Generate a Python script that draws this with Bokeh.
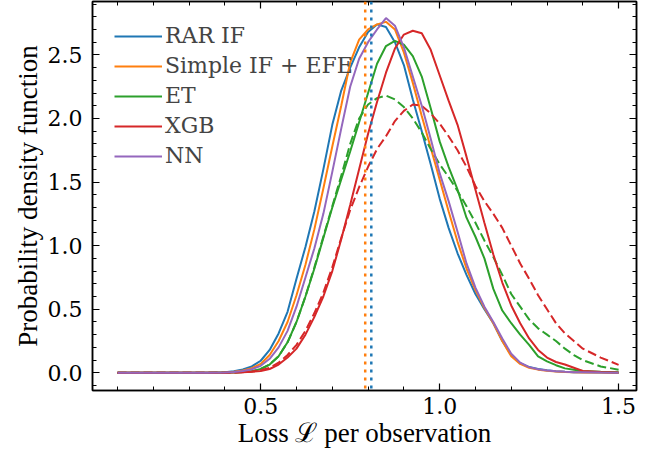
from bokeh.plotting import figure
from bokeh.models import LinearAxis, FixedTicker, Span, Legend, LegendItem, Range1d
from bokeh.embed import file_html
from bokeh.resources import INLINE

# ---- data ----
x = [0.10, 0.20, 0.30, 0.35, 0.40, 0.425, 0.45, 0.475, 0.50, 0.525, 0.55, 0.575,
     0.60, 0.625, 0.65, 0.675, 0.70, 0.725, 0.75, 0.775, 0.80, 0.825, 0.85, 0.875,
     0.90, 0.925, 0.95, 0.975, 1.00, 1.025, 1.05, 1.075, 1.10, 1.125, 1.15, 1.175,
     1.20, 1.225, 1.25, 1.275, 1.30, 1.325, 1.35, 1.375, 1.40, 1.45, 1.50]

rar_if = [0.0, 0.0, 0.0, 0.001, 0.004, 0.012, 0.027, 0.05, 0.095, 0.18, 0.31, 0.48,
          0.74, 0.99, 1.27, 1.60, 1.95, 2.22, 2.40, 2.56, 2.68, 2.74, 2.72, 2.60,
          2.42, 2.15, 1.90, 1.64, 1.37, 1.14, 0.94, 0.77, 0.62, 0.50, 0.39, 0.25,
          0.14, 0.075, 0.045, 0.03, 0.02, 0.013, 0.008, 0.005, 0.004, 0.002, 0.001]

simple_if_efe = [0.0, 0.0, 0.0, 0.001, 0.003, 0.008, 0.018, 0.036, 0.07, 0.14, 0.25, 0.40,
                 0.61, 0.85, 1.13, 1.45, 1.78, 2.10, 2.44, 2.62, 2.70, 2.74, 2.76, 2.70,
                 2.52, 2.28, 2.02, 1.77, 1.52, 1.27, 1.03, 0.82, 0.65, 0.51, 0.39, 0.25,
                 0.13, 0.07, 0.04, 0.025, 0.016, 0.011, 0.007, 0.005, 0.003, 0.002, 0.001]

et = [0.0, 0.0, 0.0, 0.0, 0.001, 0.003, 0.006, 0.012, 0.03, 0.065, 0.13, 0.24,
      0.40, 0.60, 0.82, 1.06, 1.30, 1.52, 1.74, 1.97, 2.20, 2.43, 2.57, 2.61,
      2.58, 2.49, 2.33, 2.08, 1.82, 1.62, 1.44, 1.22, 1.07, 0.90, 0.66, 0.49,
      0.39, 0.30, 0.22, 0.13, 0.09, 0.06, 0.035, 0.025, 0.015, 0.008, 0.004]

et_dashed = [0.0, 0.0, 0.0, 0.0, 0.001, 0.003, 0.006, 0.012, 0.03, 0.065, 0.13, 0.24,
             0.40, 0.60, 0.83, 1.07, 1.31, 1.55, 1.80, 2.00, 2.11, 2.16, 2.18, 2.15,
             2.09, 2.00, 1.89, 1.76, 1.64, 1.54, 1.43, 1.31, 1.18, 1.04, 0.91, 0.77,
             0.62, 0.52, 0.42, 0.35, 0.30, 0.25, 0.19, 0.14, 0.10, 0.05, 0.025]

xgb = [0.0, 0.0, 0.0, 0.0, 0.001, 0.002, 0.004, 0.008, 0.015, 0.03, 0.065, 0.12,
       0.19, 0.30, 0.44, 0.60, 0.80, 1.05, 1.32, 1.60, 1.88, 2.13, 2.36, 2.55,
       2.66, 2.69, 2.67, 2.54, 2.34, 2.14, 1.95, 1.70, 1.44, 1.18, 0.93, 0.71,
       0.53, 0.39, 0.27, 0.18, 0.12, 0.085, 0.065, 0.04, 0.015, 0.006, 0.003]

xgb_dashed = [0.0, 0.0, 0.0, 0.0, 0.001, 0.003, 0.005, 0.01, 0.02, 0.04, 0.08, 0.14,
              0.22, 0.33, 0.47, 0.63, 0.83, 1.06, 1.28, 1.46, 1.62, 1.76, 1.86, 1.98,
              2.06, 2.11, 2.10, 2.04, 1.96, 1.86, 1.75, 1.62, 1.47, 1.35, 1.25, 1.14,
              1.00, 0.86, 0.74, 0.61, 0.50, 0.39, 0.31, 0.25, 0.19, 0.12, 0.063]

nn = [0.0, 0.0, 0.0, 0.001, 0.002, 0.006, 0.014, 0.028, 0.055, 0.11, 0.20, 0.33,
      0.52, 0.75, 0.98, 1.25, 1.58, 1.92, 2.25, 2.47, 2.60, 2.70, 2.79, 2.73,
      2.56, 2.33, 2.10, 1.84, 1.57, 1.35, 1.11, 0.86, 0.67, 0.52, 0.40, 0.27,
      0.15, 0.08, 0.045, 0.028, 0.018, 0.012, 0.008, 0.005, 0.004, 0.002, 0.001]

mean_rar_if = 0.809
mean_simple_if = 0.792

x_major = [0.5, 1.0, 1.5]
x_minor = [round(0.1 * i, 1) for i in range(0, 17)]
y_major = [0.0, 0.5, 1.0, 1.5, 2.0, 2.5]
y_minor = [round(0.1 * i, 1) for i in range(-1, 30)]

BLUE, ORANGE, GREEN, RED, PURPLE = "#1f77b4", "#ff7f0e", "#2ca02c", "#d62728", "#9467bd"
LABEL_FONT = "Liberation Serif"
TICK_FONT = "DejaVu Serif"
LEGEND_FONT = "DejaVu Serif"

p = figure(width=660, height=450, output_backend="svg", toolbar_location=None,
           x_range=Range1d(0.03, 1.55), y_range=Range1d(-0.139, 2.92),
           min_border_left=92, min_border_right=24, min_border_top=1, min_border_bottom=60,
           x_axis_label="Loss \u2112 per observation",
           y_axis_label="Probability density function")
p.grid.visible = False
p.outline_line_color = "black"
p.outline_line_width = 1.5
p.background_fill_color = "white"
p.border_fill_color = "white"

p.add_layout(LinearAxis(), "above")
p.add_layout(LinearAxis(), "right")

for ax in p.xaxis:
    ax.ticker = FixedTicker(ticks=x_major, minor_ticks=x_minor)
    ax.major_label_overrides = {0.5: "0.5", 1.0: "1.0", 1.5: "1.5"}
for ax in p.yaxis:
    ax.ticker = FixedTicker(ticks=y_major, minor_ticks=y_minor)
    ax.major_label_overrides = {0.0: "0.0", 0.5: "0.5", 1.0: "1.0", 1.5: "1.5", 2.0: "2.0", 2.5: "2.5"}

for ax in p.axis:
    ax.major_tick_in = 7
    ax.major_tick_out = 0
    ax.minor_tick_in = 4
    ax.minor_tick_out = 0
    ax.axis_line_color = "black"
    ax.axis_line_width = 1.5
    ax.major_tick_line_color = "black"
    ax.major_tick_line_width = 1.2
    ax.minor_tick_line_color = "black"
    ax.minor_tick_line_width = 1
    ax.major_label_text_font = TICK_FONT
    ax.major_label_text_font_style = "normal"
    ax.major_label_text_font_size = "22px"
    ax.major_label_text_color = "black"
    ax.axis_label_text_font = LABEL_FONT
    ax.axis_label_text_font_size = "27px"
    ax.axis_label_text_font_style = "normal"
    ax.axis_label_text_color = "black"

# top and right axes: ticks only
p.above[0].major_label_overrides = {v: "" for v in x_major}
p.right[0].major_label_overrides = {v: "" for v in y_major}
for ax in (p.above[0], p.right[0]):
    ax.major_label_text_font_size = "1px"
    ax.major_label_standoff = 0
    ax.axis_label = None

p.below[0].major_label_standoff = 7
p.below[0].axis_label_standoff = 1
p.left[0].major_label_standoff = 10
p.left[0].axis_label_standoff = 2

lw = 2
r_blue = p.line(x, rar_if, line_color=BLUE, line_width=lw)
r_orange = p.line(x, simple_if_efe, line_color=ORANGE, line_width=lw)
r_green = p.line(x, et, line_color=GREEN, line_width=lw)
p.line(x, et_dashed, line_color=GREEN, line_width=lw, line_dash="9 4")
r_red = p.line(x, xgb, line_color=RED, line_width=lw)
p.line(x, xgb_dashed, line_color=RED, line_width=lw, line_dash="9 4")
r_purple = p.line(x, nn, line_color=PURPLE, line_width=lw)

p.add_layout(Span(location=mean_simple_if, dimension="height", line_color=ORANGE,
                  line_width=2.5, line_dash="3 5"))
p.add_layout(Span(location=mean_rar_if, dimension="height", line_color=BLUE,
                  line_width=2.5, line_dash="3 5"))

legend = Legend(items=[
    LegendItem(label="RAR IF", renderers=[r_blue]),
    LegendItem(label="Simple IF + EFE", renderers=[r_orange]),
    LegendItem(label="ET", renderers=[r_green]),
    LegendItem(label="XGB", renderers=[r_red]),
    LegendItem(label="NN", renderers=[r_purple]),
], location="top_left")
legend.border_line_color = None
legend.background_fill_alpha = 0
legend.label_text_font = LEGEND_FONT
legend.label_text_font_style = "normal"
legend.label_text_font_size = "22px"
legend.glyph_width = 48
legend.glyph_height = 24
legend.label_standoff = 3
legend.spacing = 5
legend.padding = 8
legend.margin = 22
p.add_layout(legend)

open("out.html", "w").write(file_html(p, INLINE))
